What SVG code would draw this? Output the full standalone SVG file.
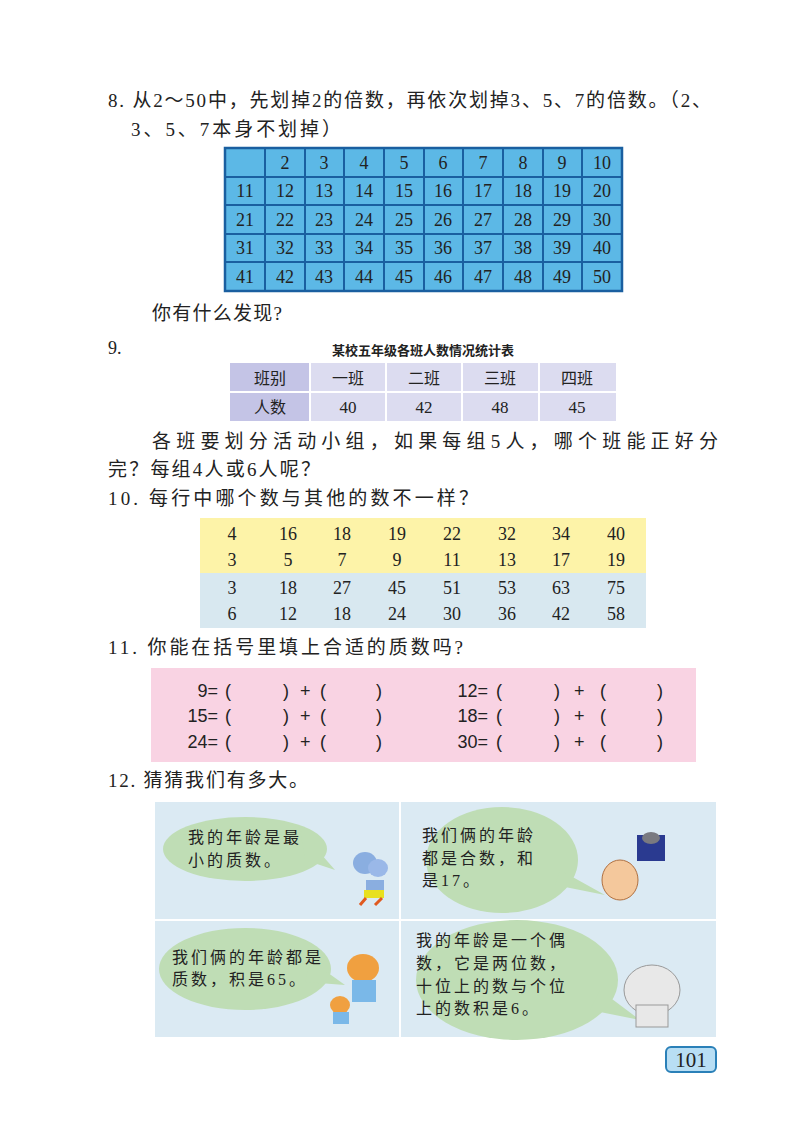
<svg xmlns="http://www.w3.org/2000/svg" width="800" height="1124" viewBox="0 0 800 1124">
<style>
.t{font-family:"Liberation Serif","Noto Sans CJK SC",serif;font-size:19px;fill:#222}
.n{font-family:"Liberation Serif",serif;font-size:18px;fill:#222;text-anchor:middle}
.m{font-family:"Liberation Serif",serif;font-size:18px;fill:#222}
.s{font-family:"Liberation Sans",sans-serif;font-size:18px;fill:#222}
.b{font-family:"Liberation Serif","Noto Sans CJK SC",serif;font-size:16px;fill:#222}
.g{stroke:#1a5fa0;stroke-width:2;fill:none}
.bub{fill:#bfddb5}
</style>
<rect width="800" height="1124" fill="#fff"/>
<text class="t" x="108" y="107" textLength="603">8. 从2～50中，先划掉2的倍数，再依次划掉3、5、7的倍数。（2、</text>
<text class="t" x="131" y="136" textLength="210">3、5、7本身不划掉）</text>
<g id="grid">
<rect x="225" y="148" width="397" height="143" fill="#5cb8e6" stroke="#1a5fa0" stroke-width="2.5"/>
<path class="g" d="M265 148V291M305 148V291M344 148V291M384 148V291M424 148V291M463 148V291M503 148V291M543 148V291M582 148V291M225 177H622M225 205H622M225 234H622M225 262H622"/>
<g class="n">
<text x="285" y="169">2</text><text x="324" y="169">3</text><text x="364" y="169">4</text><text x="404" y="169">5</text><text x="443" y="169">6</text><text x="483" y="169">7</text><text x="523" y="169">8</text><text x="562" y="169">9</text><text x="602" y="169">10</text>
<text x="245" y="197">11</text><text x="285" y="197">12</text><text x="324" y="197">13</text><text x="364" y="197">14</text><text x="404" y="197">15</text><text x="443" y="197">16</text><text x="483" y="197">17</text><text x="523" y="197">18</text><text x="562" y="197">19</text><text x="602" y="197">20</text>
<text x="245" y="226">21</text><text x="285" y="226">22</text><text x="324" y="226">23</text><text x="364" y="226">24</text><text x="404" y="226">25</text><text x="443" y="226">26</text><text x="483" y="226">27</text><text x="523" y="226">28</text><text x="562" y="226">29</text><text x="602" y="226">30</text>
<text x="245" y="254">31</text><text x="285" y="254">32</text><text x="324" y="254">33</text><text x="364" y="254">34</text><text x="404" y="254">35</text><text x="443" y="254">36</text><text x="483" y="254">37</text><text x="523" y="254">38</text><text x="562" y="254">39</text><text x="602" y="254">40</text>
<text x="245" y="283">41</text><text x="285" y="283">42</text><text x="324" y="283">43</text><text x="364" y="283">44</text><text x="404" y="283">45</text><text x="443" y="283">46</text><text x="483" y="283">47</text><text x="523" y="283">48</text><text x="562" y="283">49</text><text x="602" y="283">50</text>
</g>
</g>
<text class="t" x="152" y="320" textLength="130">你有什么发现?</text>
<text class="m" x="108" y="354">9.</text>
<text x="423" y="355" text-anchor="middle" font-family="Liberation Sans,Noto Sans CJK SC,sans-serif" font-size="13" font-weight="bold" fill="#222">某校五年级各班人数情况统计表</text>
<g id="table9">
<rect x="230" y="363" width="386" height="58" fill="#dcdcf0"/>
<rect x="230" y="363" width="80" height="58" fill="#c4c4e6"/>
<path d="M310 363V421M386 363V421M462 363V421M539 363V421M230 392H616" stroke="#fff" stroke-width="2"/>
<g class="b" text-anchor="middle">
<text x="270" y="384">班别</text><text x="348" y="384">一班</text><text x="424" y="384">二班</text><text x="500" y="384">三班</text><text x="577" y="384">四班</text>
<text x="270" y="413">人数</text>
</g>
<g class="n" style="font-size:17px"><text x="348" y="413">40</text><text x="424" y="413">42</text><text x="500" y="413">48</text><text x="577" y="413">45</text></g>
</g>
<text class="t" x="152" y="448" textLength="566">各班要划分活动小组，如果每组5人，哪个班能正好分</text>
<text class="t" x="108" y="476" textLength="212">完？每组4人或6人呢？</text>
<text class="t" x="108" y="505" textLength="370">10. 每行中哪个数与其他的数不一样？</text>
<g id="table10">
<rect x="200" y="518" width="446" height="55" fill="#fdf3a8"/>
<rect x="200" y="573" width="446" height="55" fill="#d8e8f0"/>
<g class="n">
<text x="232" y="540">4</text><text x="288" y="540">16</text><text x="342" y="540">18</text><text x="397" y="540">19</text><text x="452" y="540">22</text><text x="507" y="540">32</text><text x="561" y="540">34</text><text x="616" y="540">40</text>
<text x="232" y="566">3</text><text x="288" y="566">5</text><text x="342" y="566">7</text><text x="397" y="566">9</text><text x="452" y="566">11</text><text x="507" y="566">13</text><text x="561" y="566">17</text><text x="616" y="566">19</text>
<text x="232" y="594">3</text><text x="288" y="594">18</text><text x="342" y="594">27</text><text x="397" y="594">45</text><text x="452" y="594">51</text><text x="507" y="594">53</text><text x="561" y="594">63</text><text x="616" y="594">75</text>
<text x="232" y="620">6</text><text x="288" y="620">12</text><text x="342" y="620">18</text><text x="397" y="620">24</text><text x="452" y="620">30</text><text x="507" y="620">36</text><text x="561" y="620">42</text><text x="616" y="620">58</text>
</g>
</g>
<text class="t" x="108" y="654" textLength="355">11. 你能在括号里填上合适的质数吗?</text>
<g id="table11">
<rect x="151" y="668" width="545" height="94" fill="#f9d3e3"/>
<g class="s" text-anchor="end">
<text x="218" y="697">9=</text><text x="218" y="722">15=</text><text x="218" y="748">24=</text>
<text x="488" y="697">12=</text><text x="488" y="722">18=</text><text x="488" y="748">30=</text>
</g>
<g class="s">
<text x="225" y="697">(</text><text x="283" y="697">)</text><text x="300" y="697">+</text><text x="320" y="697">(</text><text x="376" y="697">)</text>
<text x="225" y="722">(</text><text x="283" y="722">)</text><text x="300" y="722">+</text><text x="320" y="722">(</text><text x="376" y="722">)</text>
<text x="225" y="748">(</text><text x="283" y="748">)</text><text x="300" y="748">+</text><text x="320" y="748">(</text><text x="376" y="748">)</text>
<text x="496" y="697">(</text><text x="554" y="697">)</text><text x="574" y="697">+</text><text x="600" y="697">(</text><text x="657" y="697">)</text>
<text x="496" y="722">(</text><text x="554" y="722">)</text><text x="574" y="722">+</text><text x="600" y="722">(</text><text x="657" y="722">)</text>
<text x="496" y="748">(</text><text x="554" y="748">)</text><text x="574" y="748">+</text><text x="600" y="748">(</text><text x="657" y="748">)</text>
</g>
</g>
<text class="t" x="108" y="787" textLength="200">12. 猜猜我们有多大。</text>
<g id="panel12">
<rect x="155" y="802" width="561" height="235" fill="#dbeaf3"/>
<path d="M400 802V1037M155 920H716" stroke="#fff" stroke-width="2"/>
<ellipse class="bub" cx="245" cy="849" rx="82" ry="32"/>
<path class="bub" d="M300 830L335 870L305 860Z"/>
<ellipse class="bub" cx="502" cy="860" rx="76" ry="53"/>
<path class="bub" d="M560 870L605 895L555 885Z"/>
<ellipse class="bub" cx="245" cy="969" rx="86" ry="41"/>
<path class="bub" d="M310 960L345 985L305 982Z"/>
<ellipse class="bub" cx="517" cy="980" rx="101" ry="60"/>
<path class="bub" d="M600 990L640 1020L590 1010Z"/>
<g class="b">
<text x="188" y="843" letter-spacing="3">我的年龄是最</text>
<text x="188" y="866" letter-spacing="3">小的质数。</text>
<text x="422" y="841" letter-spacing="3">我们俩的年龄</text>
<text x="422" y="864" letter-spacing="3">都是合数，和</text>
<text x="422" y="886" letter-spacing="3">是17。</text>
<text x="172" y="963" letter-spacing="3">我们俩的年龄都是</text>
<text x="172" y="985" letter-spacing="3">质数，积是65。</text>
<text x="416" y="946" letter-spacing="3">我的年龄是一个偶</text>
<text x="416" y="969" letter-spacing="3">数，它是两位数，</text>
<text x="416" y="992" letter-spacing="3">十位上的数与个位</text>
<text x="416" y="1014" letter-spacing="3">上的数积是6。</text>
</g>
<g id="mouse"><ellipse cx="365" cy="863" rx="12" ry="11" fill="#8aaee0"/><ellipse cx="378" cy="868" rx="10" ry="9" fill="#9ab8e8"/><rect x="366" y="880" width="18" height="12" fill="#8aaee0"/><rect x="364" y="890" width="20" height="8" fill="#e8e020"/><path d="M366 898L360 905M382 898L375 905" stroke="#e05a20" stroke-width="3"/></g>
<g id="pig"><ellipse cx="620" cy="880" rx="18" ry="20" fill="#f4c89c" stroke="#b07040"/><rect x="637" y="835" width="28" height="26" fill="#2a3a90"/><ellipse cx="651" cy="838" rx="9" ry="6" fill="#7a7a80"/></g>
<g id="tigers"><ellipse cx="363" cy="968" rx="16" ry="14" fill="#f0a040"/><rect x="352" y="980" width="24" height="22" fill="#7ab8e8"/><ellipse cx="340" cy="1005" rx="10" ry="9" fill="#f0a040"/><rect x="333" y="1012" width="16" height="12" fill="#7ab8e8"/></g>
<g id="elephant"><ellipse cx="652" cy="990" rx="28" ry="25" fill="#e8e8e8" stroke="#999"/><rect x="636" y="1005" width="32" height="22" fill="#e8e8e8" stroke="#999"/></g>
</g>
<g id="pagenum">
<rect x="666" y="1047" width="50" height="25" rx="5" fill="#b8def4" stroke="#2a80b8" stroke-width="2"/>
<text x="691" y="1067" class="n" style="font-size:21px">101</text>
</g>
</svg>
